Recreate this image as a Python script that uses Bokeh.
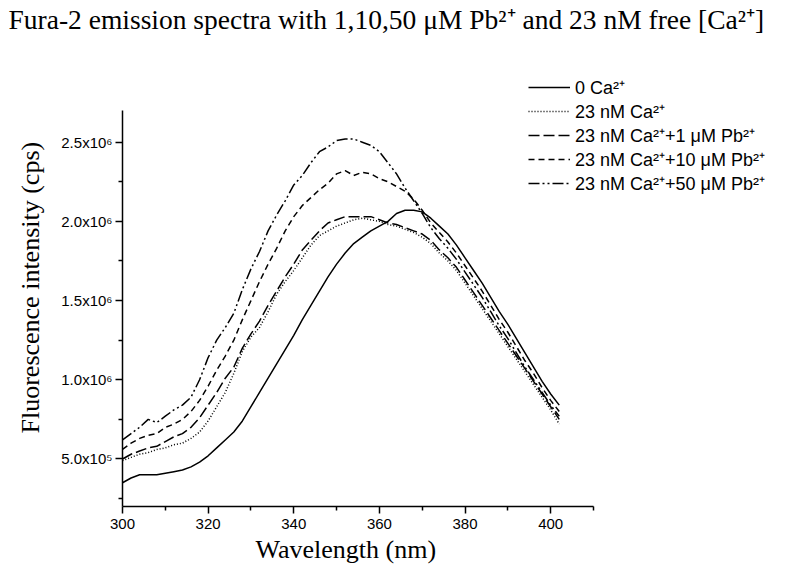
from bokeh.plotting import figure
from bokeh.models import FixedTicker, Legend, LegendItem, ColumnDataSource, Range1d, Title
from bokeh.embed import file_html
from bokeh.resources import INLINE

# ---- data (intensity in units of 10^6 cps) ----
wavelength = list(range(300, 404, 2))  # nm, 300..402

ca0 = [0.35, 0.38, 0.40, 0.40, 0.40, 0.41, 0.42, 0.43, 0.45, 0.48,
       0.52, 0.57, 0.62, 0.67, 0.74, 0.83, 0.92, 1.01, 1.10, 1.19,
       1.28, 1.38, 1.47, 1.56, 1.65, 1.73, 1.80, 1.86, 1.90, 1.94,
       1.97, 2.00, 2.05, 2.07, 2.07, 2.06, 2.02, 1.97, 1.92, 1.85,
       1.77, 1.69, 1.61, 1.52, 1.43, 1.35, 1.26, 1.17, 1.08, 0.99,
       0.91, 0.84]

ca23 = [0.49, 0.51, 0.53, 0.54, 0.56, 0.57, 0.59, 0.60, 0.63, 0.67,
        0.74, 0.83, 0.92, 1.04, 1.18, 1.27, 1.33, 1.43, 1.54, 1.62,
        1.69, 1.77, 1.85, 1.91, 1.94, 1.97, 1.99, 2.01, 2.02, 2.01,
        2.00, 1.98, 1.97, 1.95, 1.93, 1.90, 1.86, 1.80, 1.75, 1.69,
        1.61, 1.53, 1.45, 1.37, 1.29, 1.21, 1.13, 1.05, 0.97, 0.89,
        0.81, 0.72]

pb1 = [0.50, 0.53, 0.55, 0.57, 0.58, 0.61, 0.64, 0.66, 0.70, 0.76,
       0.84, 0.92, 1.01, 1.08, 1.20, 1.29, 1.37, 1.47, 1.56, 1.65,
       1.73, 1.82, 1.88, 1.94, 1.99, 2.01, 2.03, 2.03, 2.03, 2.03,
       2.01, 1.99, 1.98, 1.96, 1.94, 1.92, 1.88, 1.82, 1.77, 1.71,
       1.63, 1.55, 1.47, 1.39, 1.31, 1.23, 1.15, 1.07, 0.99, 0.91,
       0.83, 0.75]

pb10 = [0.56, 0.60, 0.63, 0.65, 0.66, 0.70, 0.72, 0.75, 0.80, 0.87,
        0.96, 1.06, 1.15, 1.25, 1.38, 1.50, 1.62, 1.73, 1.83, 1.94,
        2.03, 2.10, 2.15, 2.20, 2.24, 2.30, 2.32, 2.29, 2.31, 2.30,
        2.27, 2.25, 2.22, 2.19, 2.14, 2.07, 1.99, 1.93, 1.87, 1.80,
        1.72, 1.64, 1.56, 1.47, 1.38, 1.30, 1.21, 1.12, 1.04, 0.95,
        0.87, 0.80]

pb50 = [0.62, 0.66, 0.70, 0.75, 0.73, 0.77, 0.81, 0.84, 0.89, 1.00,
        1.14, 1.25, 1.33, 1.42, 1.57, 1.70, 1.81, 1.94, 2.04, 2.13,
        2.23, 2.29, 2.37, 2.44, 2.47, 2.51, 2.52, 2.52, 2.50, 2.48,
        2.44, 2.37, 2.30, 2.21, 2.13, 2.05, 1.96, 1.89, 1.83, 1.76,
        1.68, 1.60, 1.52, 1.43, 1.34, 1.26, 1.17, 1.08, 1.00, 0.92,
        0.84, 0.77]

series_labels = ["0 Ca\u00b2\u207a",
                 "23 nM Ca\u00b2\u207a",
                 "23 nM Ca\u00b2\u207a+1 \u03bcM Pb\u00b2\u207a",
                 "23 nM Ca\u00b2\u207a+10 \u03bcM Pb\u00b2\u207a",
                 "23 nM Ca\u00b2\u207a+50 \u03bcM Pb\u00b2\u207a"]

x_axis_bounds = [300, 410]
y_axis_bounds = [200000, 2700000]
x_major_ticks = [300, 320, 340, 360, 380, 400]
x_minor_ticks = [310, 330, 350, 370, 390, 410]
y_major_ticks = [500000, 1000000, 1500000, 2000000, 2500000]
y_minor_ticks = [250000, 750000, 1250000, 1750000, 2250000]
y_tick_labels = ["5.0x10\u2075", "1.0x10\u2076", "1.5x10\u2076", "2.0x10\u2076", "2.5x10\u2076"]

title_text = "Fura-2 emission spectra with 1,10,50 \u03bcM Pb\u00b2\u207a and 23 nM free [Ca\u00b2\u207a]"
x_label_text = "Wavelength (nm)"
y_label_text = "Fluorescence intensity (cps)"

# ---- layout geometry (pixels) ----
W, H = 782, 571
B_LEFT, B_TOP, B_BOTTOM, B_RIGHT = 122, 36, 65, 0
AXIS_LEN_X, AXIS_LEN_Y = 471, 396          # drawn length of the two axes
frame_w = W - B_LEFT - B_RIGHT
frame_h = H - B_TOP - B_BOTTOM
x_end = x_axis_bounds[0] + frame_w * (x_axis_bounds[1] - x_axis_bounds[0]) / AXIS_LEN_X
y_end = y_axis_bounds[0] + frame_h * (y_axis_bounds[1] - y_axis_bounds[0]) / AXIS_LEN_Y

p = figure(width=W, height=H, output_backend="svg", toolbar_location=None,
           x_range=Range1d(x_axis_bounds[0], x_end),
           y_range=Range1d(y_axis_bounds[0], y_end),
           min_border_left=B_LEFT, min_border_right=B_RIGHT, min_border_top=B_TOP,
           min_border_bottom=B_BOTTOM)
p.outline_line_color = None
p.xgrid.visible = False
p.ygrid.visible = False
p.background_fill_color = "white"
p.border_fill_color = "white"

p.title.text = title_text
p.title.text_font = "Liberation Serif"
p.title.text_font_size = "27.5px"
p.title.text_font_style = "normal"
p.title.text_color = "black"
p.title.align = "left"
p.title.offset = 8 - B_LEFT
p.title.vertical_align = "top"
p.title.standoff = 0

styles = ["solid", "1 2", "11 4", "6 4", "11 3 2 3 2 3"]

renderers = []
for ys, dash in zip([ca0, ca23, pb1, pb10, pb50], styles):
    src = ColumnDataSource(dict(x=wavelength, y=[v * 1e6 for v in ys]))
    r = p.line("x", "y", source=src, line_color="black", line_width=1.5, line_dash=dash)
    renderers.append(r)

legend = Legend(items=[LegendItem(label=lab, renderers=[r]) for lab, r in zip(series_labels, renderers)],
                location=(406, 311), padding=0, margin=0, spacing=0,
                label_height=22, glyph_height=22, glyph_width=42, label_standoff=5,
                label_text_font="Liberation Sans", label_text_font_size="18px",
                label_text_color="black",
                border_line_color=None, background_fill_alpha=0)
p.add_layout(legend, "center")

# axes
for ax in (p.xaxis[0], p.yaxis[0]):
    ax.axis_line_color = "black"
    ax.axis_line_width = 1.5
    ax.major_tick_line_width = 1.5
    ax.minor_tick_line_width = 1.5
    ax.major_tick_in = 0
    ax.minor_tick_in = 0
    ax.major_tick_out = 7
    ax.minor_tick_out = 4
    ax.major_label_text_font = "Liberation Sans"
    ax.major_label_text_font_size = "15px"
    ax.major_label_text_color = "black"

p.xaxis.bounds = tuple(x_axis_bounds)
p.yaxis.bounds = tuple(y_axis_bounds)
p.xaxis.ticker = FixedTicker(ticks=x_major_ticks, minor_ticks=x_minor_ticks)
p.yaxis.ticker = FixedTicker(ticks=y_major_ticks, minor_ticks=y_minor_ticks)
p.yaxis.major_label_overrides = {t: lab for t, lab in zip(y_major_ticks, y_tick_labels)}
p.xaxis.major_label_standoff = 5
p.yaxis.major_label_standoff = 3

# axis titles, placed along the drawn (bounded) axes rather than the whole frame
x_title = Title(text=x_label_text, text_font="Liberation Serif", text_font_size="26px",
                text_font_style="normal", text_color="black",
                align="left", offset=133, vertical_align="bottom", standoff=2)
p.add_layout(x_title, "below")

y_title = Title(text=y_label_text, text_font="Liberation Serif", text_font_size="26px",
                text_font_style="normal", text_color="black",
                align="left", offset=73, vertical_align="middle", standoff=26)
p.add_layout(y_title, "left")

open("out.html", "w").write(file_html(p, INLINE))
